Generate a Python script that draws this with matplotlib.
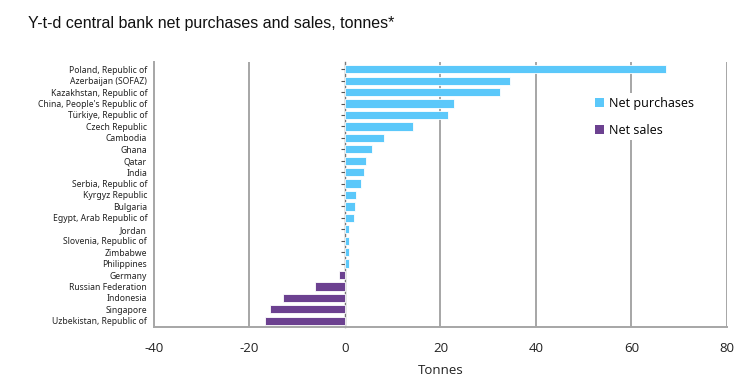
import matplotlib
matplotlib.use("Agg")
import matplotlib.pyplot as plt
from matplotlib.patches import Patch

countries = [
    "Poland, Republic of", "Azerbaijan (SOFAZ)", "Kazakhstan, Republic of",
    "China, People's Republic of", "Türkiye, Republic of", "Czech Republic",
    "Cambodia", "Ghana", "Qatar", "India", "Serbia, Republic of",
    "Kyrgyz Republic", "Bulgaria", "Egypt, Arab Republic of", "Jordan",
    "Slovenia, Republic of", "Zimbabwe", "Philippines", "Germany",
    "Russian Federation", "Indonesia", "Singapore", "Uzbekistan, Republic of",
]
tonnes = [67.2, 34.6, 32.5, 22.8, 21.5, 14.2, 8.1, 5.6, 4.5, 3.9, 3.3,
          2.3, 2.2, 1.8, 0.9, 0.8, 0.8, 0.8, -1.3, -6.2, -12.9, -15.7, -16.8]
xticks = [-40, -20, 0, 20, 40, 60, 80]

BLUE = "#5BC8FA"
PURPLE = "#6C4190"
GRID = "#A6A6A6"

fig = plt.figure(figsize=(7.49, 3.79), dpi=100)
ax = fig.add_axes([0.2056, 0.137, 0.7650, 0.700])

ypos = list(range(len(countries)))
colors = [BLUE if v >= 0 else PURPLE for v in tonnes]
ax.barh(ypos, tonnes, height=0.72, color=colors, edgecolor="white",
        linewidth=0.6, zorder=3)
ax.set_ylim(len(countries) - 0.45, -0.65)
ax.set_xlim(-40, 80)
ax.set_xticks(xticks)
ax.set_xticklabels([str(t) for t in xticks], fontsize=9.5,
                   family="Open Sans", color="#222222")
ax.tick_params(axis="x", length=0, pad=11)
ax.set_yticks(ypos)
ax.set_yticklabels(countries, fontsize=6.2, family="Noto Sans", color="#222222")
ax.tick_params(axis="y", length=0, pad=5)

for t in xticks:
    if t not in (-40, 0):
        ax.axvline(t, color=GRID, lw=1.4, zorder=1)

for s in ("top", "right"):
    ax.spines[s].set_visible(False)
ax.spines["left"].set_color(GRID)
ax.spines["left"].set_linewidth(1.4)
ax.spines["bottom"].set_color(GRID)
ax.spines["bottom"].set_linewidth(1.4)

# zero axis with small ticks
sec = ax.secondary_yaxis(40 / 120)
sec.set_yticks(ypos)
sec.set_yticklabels([])
sec.tick_params(axis="y", length=3, color="#555555", width=0.8)
sec.spines["left"].set_color("#777777")
sec.spines["left"].set_linewidth(1.0)

ax.set_xlabel("Tonnes", fontsize=9.5, family="Open Sans", color="#222222",
              labelpad=6)

handles = [Patch(facecolor=BLUE, label="Net purchases"),
           Patch(facecolor=PURPLE, label="Net sales")]
leg = ax.legend(handles=handles, loc="upper left",
                bbox_to_anchor=(0.752, 0.905), frameon=True, fancybox=False,
                edgecolor="none", facecolor="white", framealpha=1,
                prop={"family": "Open Sans", "size": 9},
                handlelength=0.75, handleheight=0.75, handletextpad=0.35,
                labelspacing=1.1, borderpad=0.3)
leg.set_zorder(5)

fig.text(0.038, 0.925, "Y-t-d central bank net purchases and sales, tonnes*",
         fontsize=11.5, family="Liberation Sans", color="#111111")

fig.savefig("out.png", dpi=100, facecolor="white")
